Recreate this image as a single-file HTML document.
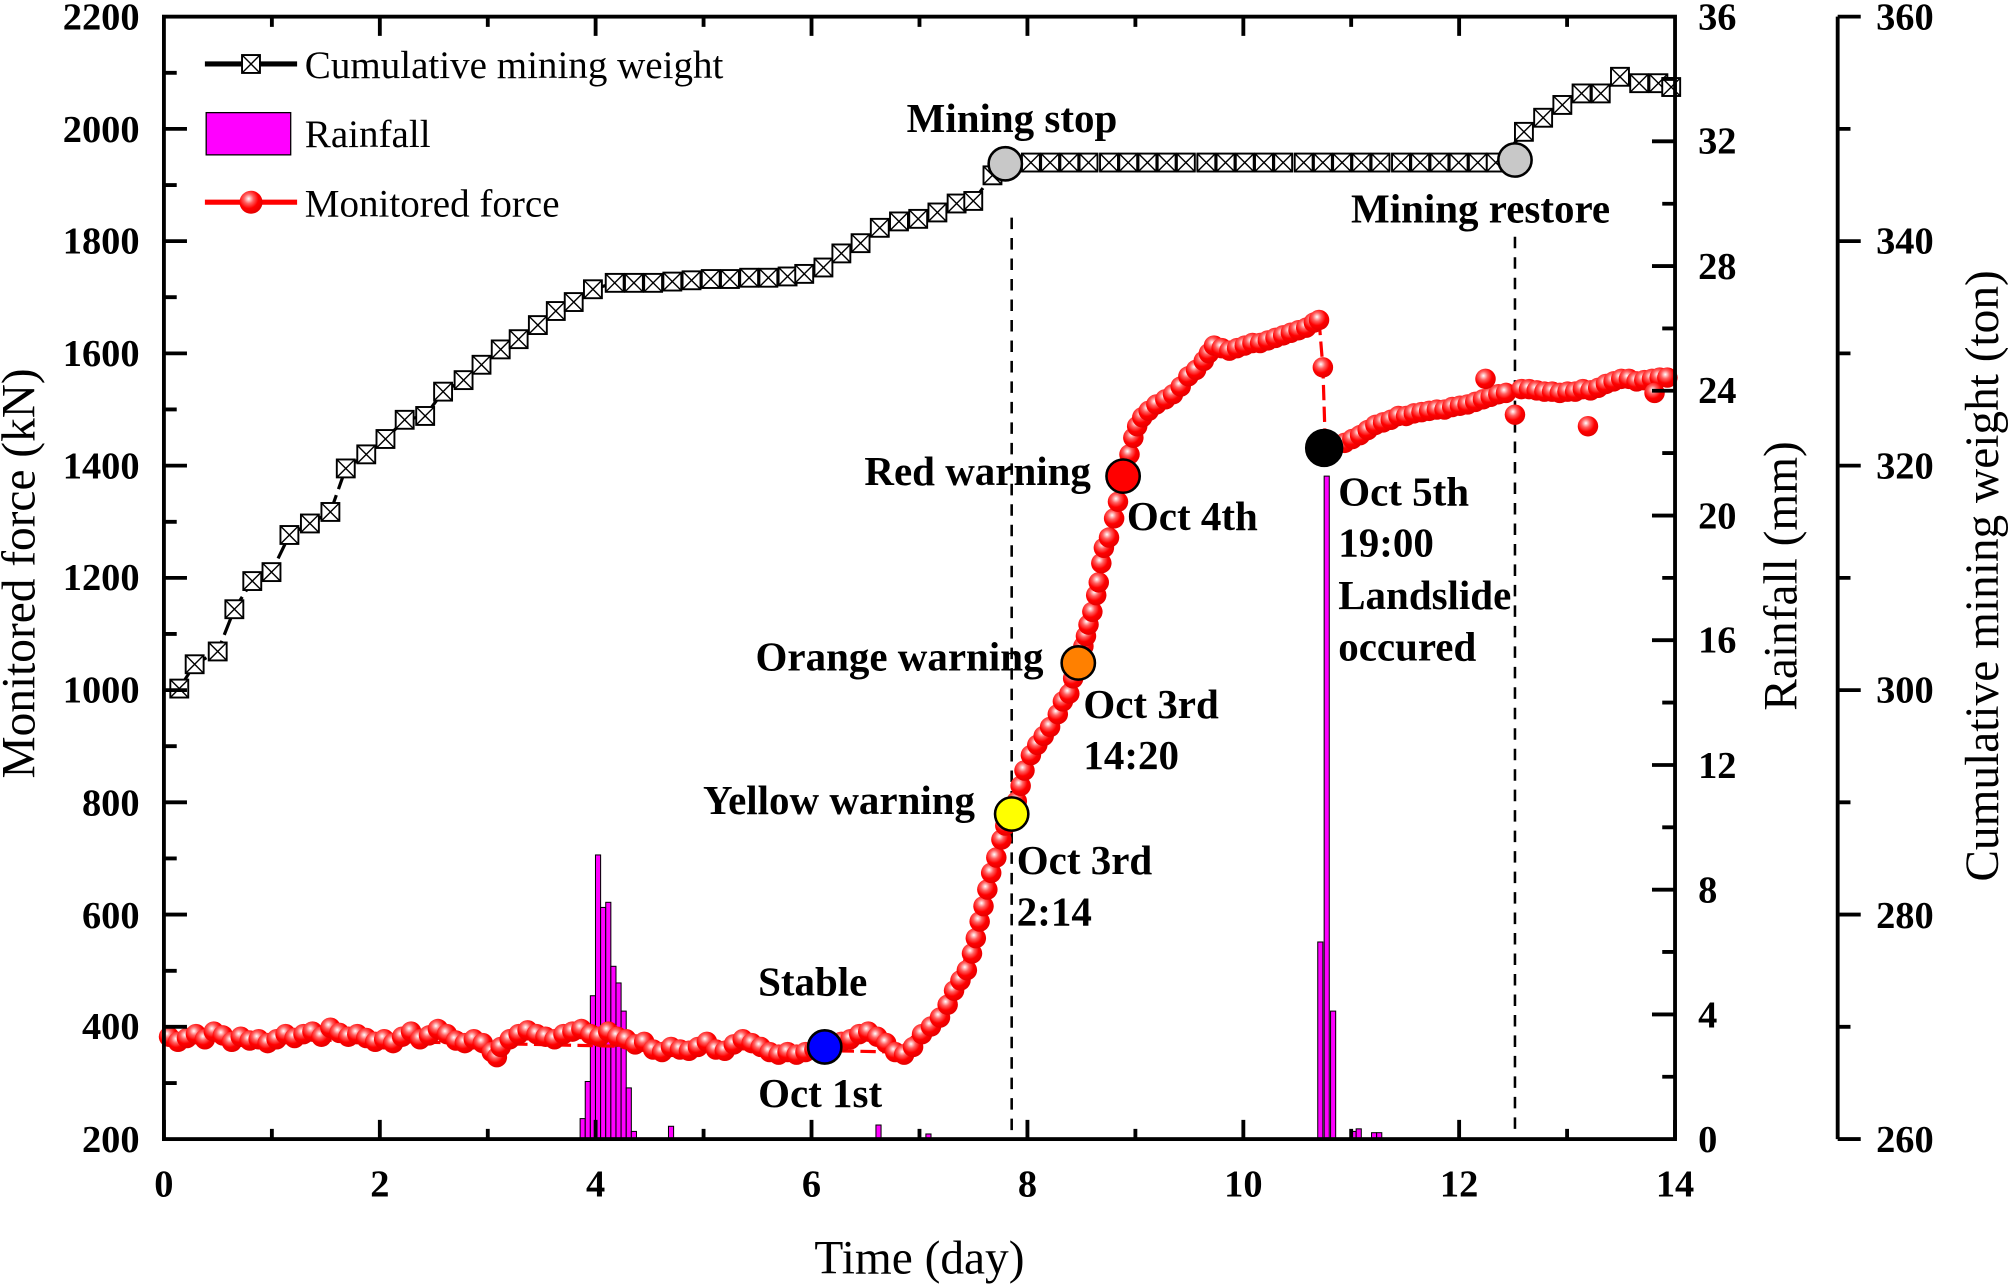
<!DOCTYPE html>
<html><head><meta charset="utf-8"><style>html,body{margin:0;padding:0;background:#fff}svg{display:block}</style></head>
<body>
<svg width="2008" height="1285" viewBox="0 0 1568 1004" preserveAspectRatio="none" xmlns="http://www.w3.org/2000/svg" font-family="Liberation Serif, serif">
<defs>
<radialGradient id="rg" cx="0.4" cy="0.35" r="0.7"><stop offset="0" stop-color="#fff"/><stop offset="0.3" stop-color="#ff6060"/><stop offset="0.6" stop-color="#ff0000"/><stop offset="1" stop-color="#e00000"/></radialGradient>
<g id="m"><rect x="-7" y="-7" width="14" height="14" fill="#fff" stroke="#000" stroke-width="1.5"/><path d="M-7 -7L7 7M7 -7L-7 7" stroke="#000" stroke-width="1.1"/></g>
<circle id="d" r="8" fill="url(#rg)"/>
</defs>
<g fill="#ff00ff" stroke="#000" stroke-width="0.8">
<rect x="453" y="874" width="4" height="16"/><rect x="457" y="845" width="4" height="45"/><rect x="461" y="778" width="4" height="112"/><rect x="465" y="668" width="4" height="222"/><rect x="469" y="709" width="4" height="181"/><rect x="473" y="705" width="4" height="185"/><rect x="477" y="755" width="4" height="135"/><rect x="481" y="768" width="4" height="122"/><rect x="485" y="790" width="4" height="100"/><rect x="489" y="850" width="4" height="40"/><rect x="493" y="884" width="4" height="6"/>
<rect x="522" y="880" width="4" height="10"/><rect x="684" y="879" width="4" height="11"/><rect x="723" y="886" width="4" height="4"/>
<rect x="1029" y="736" width="4" height="154"/><rect x="1034" y="372" width="4" height="518"/><rect x="1039" y="790" width="4" height="100"/>
<rect x="1055" y="884" width="4" height="6"/><rect x="1059" y="882" width="4" height="8"/><rect x="1071" y="885" width="4" height="5"/><rect x="1075" y="885" width="4" height="5"/>
</g>
<polyline fill="none" stroke="#000" stroke-width="2.5" stroke-dasharray="14,5" points="140,538 152,519 170,509 183,476 197,454 212,447 226,418 242,409 258,400 270,366 286,355 301,343 316,328 332,325 346,306 362,297 376,285 391,273 405,265 420,254 434,243 448,236 463,226 480,221 495,221 510,221 525,220 540,219 555,218 570,218 585,217 600,217 615,216 628,214 643,209 657,198 672,190 687,178 702,173 717,171 732,166 747,159 760,157 775,137 790,127 1170,127 1190,103 1205,92 1220,82 1235,73 1250,73 1265,60 1280,65 1295,65 1305,68"/>
<g>
<use href="#m" x="140" y="538"/><use href="#m" x="152" y="519"/><use href="#m" x="170" y="509"/><use href="#m" x="183" y="476"/><use href="#m" x="197" y="454"/><use href="#m" x="212" y="447"/><use href="#m" x="226" y="418"/><use href="#m" x="242" y="409"/><use href="#m" x="258" y="400"/><use href="#m" x="270" y="366"/><use href="#m" x="286" y="355"/><use href="#m" x="301" y="343"/><use href="#m" x="316" y="328"/><use href="#m" x="332" y="325"/><use href="#m" x="346" y="306"/><use href="#m" x="362" y="297"/><use href="#m" x="376" y="285"/><use href="#m" x="391" y="273"/><use href="#m" x="405" y="265"/><use href="#m" x="420" y="254"/><use href="#m" x="434" y="243"/><use href="#m" x="448" y="236"/><use href="#m" x="463" y="226"/><use href="#m" x="480" y="221"/><use href="#m" x="495" y="221"/><use href="#m" x="510" y="221"/><use href="#m" x="525" y="220"/><use href="#m" x="540" y="219"/><use href="#m" x="555" y="218"/><use href="#m" x="570" y="218"/><use href="#m" x="585" y="217"/><use href="#m" x="600" y="217"/><use href="#m" x="615" y="216"/><use href="#m" x="628" y="214"/><use href="#m" x="643" y="209"/><use href="#m" x="657" y="198"/><use href="#m" x="672" y="190"/><use href="#m" x="687" y="178"/><use href="#m" x="702" y="173"/><use href="#m" x="717" y="171"/><use href="#m" x="732" y="166"/><use href="#m" x="747" y="159"/><use href="#m" x="760" y="157"/><use href="#m" x="775" y="137"/>
<use href="#m" x="805" y="127"/><use href="#m" x="820" y="127"/><use href="#m" x="835" y="127"/><use href="#m" x="850" y="127"/><use href="#m" x="866" y="127"/><use href="#m" x="881" y="127"/><use href="#m" x="896" y="127"/><use href="#m" x="911" y="127"/><use href="#m" x="926" y="127"/><use href="#m" x="942" y="127"/><use href="#m" x="957" y="127"/><use href="#m" x="972" y="127"/><use href="#m" x="987" y="127"/><use href="#m" x="1002" y="127"/><use href="#m" x="1018" y="127"/><use href="#m" x="1033" y="127"/><use href="#m" x="1048" y="127"/><use href="#m" x="1063" y="127"/><use href="#m" x="1078" y="127"/><use href="#m" x="1094" y="127"/><use href="#m" x="1109" y="127"/><use href="#m" x="1124" y="127"/><use href="#m" x="1139" y="127"/><use href="#m" x="1154" y="127"/><use href="#m" x="1168" y="127"/>
<use href="#m" x="1190" y="103"/><use href="#m" x="1205" y="92"/><use href="#m" x="1220" y="82"/><use href="#m" x="1235" y="73"/><use href="#m" x="1250" y="73"/><use href="#m" x="1265" y="60"/><use href="#m" x="1280" y="65"/><use href="#m" x="1295" y="65"/><use href="#m" x="1305" y="68"/>
</g>
<polyline fill="none" stroke="#ff0000" stroke-width="2.5" stroke-dasharray="12,5" points="128,810 700,822 740,785 765,720 789,636 812,575 841,518 856,460 877,372 895,320 940,282 950,270 1030,250 1033,287 1035,350 1090,325 1170,308 1300,295"/>
<line x1="790" y1="170" x2="790" y2="890" stroke="#000" stroke-width="2" stroke-dasharray="9,7"/>
<line x1="1183" y1="185" x2="1183" y2="890" stroke="#000" stroke-width="2" stroke-dasharray="9,7"/>
<g>
<use href="#d" x="132" y="810"/><use href="#d" x="139" y="814"/><use href="#d" x="146" y="811"/><use href="#d" x="153" y="808"/><use href="#d" x="160" y="812"/><use href="#d" x="167" y="806"/><use href="#d" x="174" y="809"/><use href="#d" x="181" y="814"/><use href="#d" x="188" y="810"/><use href="#d" x="195" y="813"/><use href="#d" x="202" y="812"/><use href="#d" x="209" y="815"/><use href="#d" x="216" y="812"/><use href="#d" x="223" y="808"/><use href="#d" x="230" y="811"/><use href="#d" x="237" y="808"/><use href="#d" x="244" y="806"/><use href="#d" x="251" y="810"/><use href="#d" x="258" y="803"/><use href="#d" x="265" y="807"/><use href="#d" x="272" y="810"/><use href="#d" x="279" y="808"/><use href="#d" x="286" y="811"/><use href="#d" x="293" y="814"/><use href="#d" x="300" y="812"/><use href="#d" x="307" y="815"/><use href="#d" x="314" y="810"/><use href="#d" x="321" y="806"/><use href="#d" x="328" y="812"/><use href="#d" x="335" y="809"/><use href="#d" x="342" y="804"/><use href="#d" x="349" y="808"/><use href="#d" x="356" y="813"/><use href="#d" x="363" y="815"/><use href="#d" x="370" y="812"/><use href="#d" x="377" y="815"/><use href="#d" x="384" y="822"/><use href="#d" x="388" y="826"/><use href="#d" x="391" y="818"/><use href="#d" x="398" y="812"/><use href="#d" x="405" y="808"/><use href="#d" x="412" y="805"/><use href="#d" x="419" y="808"/><use href="#d" x="426" y="810"/><use href="#d" x="433" y="812"/><use href="#d" x="440" y="808"/><use href="#d" x="447" y="806"/><use href="#d" x="454" y="804"/><use href="#d" x="461" y="808"/><use href="#d" x="468" y="810"/><use href="#d" x="475" y="806"/><use href="#d" x="482" y="810"/><use href="#d" x="489" y="812"/><use href="#d" x="496" y="816"/><use href="#d" x="503" y="814"/><use href="#d" x="510" y="820"/><use href="#d" x="517" y="822"/><use href="#d" x="524" y="818"/><use href="#d" x="531" y="820"/><use href="#d" x="538" y="821"/><use href="#d" x="545" y="818"/><use href="#d" x="552" y="814"/><use href="#d" x="559" y="820"/><use href="#d" x="566" y="821"/><use href="#d" x="573" y="816"/><use href="#d" x="580" y="812"/><use href="#d" x="587" y="815"/><use href="#d" x="594" y="818"/><use href="#d" x="601" y="822"/><use href="#d" x="608" y="824"/><use href="#d" x="615" y="822"/><use href="#d" x="622" y="824"/><use href="#d" x="629" y="822"/><use href="#d" x="636" y="820"/><use href="#d" x="650" y="818"/><use href="#d" x="657" y="814"/><use href="#d" x="664" y="812"/><use href="#d" x="671" y="808"/><use href="#d" x="678" y="806"/><use href="#d" x="685" y="810"/><use href="#d" x="692" y="815"/><use href="#d" x="699" y="822"/><use href="#d" x="706" y="824"/>
<use href="#d" x="713" y="818"/><use href="#d" x="720" y="808"/><use href="#d" x="727" y="802"/><use href="#d" x="734" y="795"/><use href="#d" x="740" y="785"/><use href="#d" x="745" y="774"/><use href="#d" x="750" y="766"/><use href="#d" x="755" y="758"/><use href="#d" x="759" y="745"/><use href="#d" x="762" y="733"/><use href="#d" x="765" y="720"/><use href="#d" x="768" y="708"/><use href="#d" x="771" y="695"/><use href="#d" x="774" y="682"/><use href="#d" x="778" y="670"/><use href="#d" x="782" y="656"/><use href="#d" x="785" y="645"/><use href="#d" x="794" y="626"/><use href="#d" x="797" y="614"/><use href="#d" x="800" y="602"/><use href="#d" x="805" y="590"/><use href="#d" x="810" y="582"/><use href="#d" x="815" y="575"/><use href="#d" x="820" y="568"/><use href="#d" x="826" y="558"/><use href="#d" x="830" y="548"/><use href="#d" x="835" y="542"/><use href="#d" x="838" y="530"/><use href="#d" x="846" y="505"/><use href="#d" x="848" y="497"/><use href="#d" x="850" y="488"/><use href="#d" x="853" y="478"/><use href="#d" x="856" y="465"/><use href="#d" x="858" y="455"/><use href="#d" x="860" y="440"/><use href="#d" x="862" y="428"/><use href="#d" x="866" y="420"/><use href="#d" x="870" y="405"/><use href="#d" x="873" y="392"/><use href="#d" x="882" y="355"/><use href="#d" x="885" y="342"/><use href="#d" x="888" y="333"/><use href="#d" x="892" y="326"/><use href="#d" x="897" y="321"/><use href="#d" x="903" y="316"/><use href="#d" x="910" y="312"/><use href="#d" x="916" y="308"/><use href="#d" x="922" y="302"/><use href="#d" x="928" y="294"/><use href="#d" x="934" y="289"/><use href="#d" x="940" y="282"/><use href="#d" x="944" y="276"/><use href="#d" x="948" y="270"/><use href="#d" x="954" y="272"/><use href="#d" x="960" y="274"/><use href="#d" x="966" y="272"/><use href="#d" x="972" y="270"/><use href="#d" x="978" y="268"/><use href="#d" x="984" y="268"/><use href="#d" x="990" y="266"/><use href="#d" x="996" y="264"/><use href="#d" x="1002" y="262"/><use href="#d" x="1008" y="260"/><use href="#d" x="1014" y="258"/><use href="#d" x="1020" y="256"/><use href="#d" x="1026" y="252"/><use href="#d" x="1030" y="250"/><use href="#d" x="1033" y="287"/>
<use href="#d" x="1050" y="346"/><use href="#d" x="1056" y="343"/><use href="#d" x="1062" y="340"/><use href="#d" x="1068" y="336"/><use href="#d" x="1074" y="332"/><use href="#d" x="1080" y="330"/><use href="#d" x="1086" y="328"/><use href="#d" x="1092" y="325"/><use href="#d" x="1098" y="325"/><use href="#d" x="1104" y="323"/><use href="#d" x="1110" y="322"/><use href="#d" x="1116" y="321"/><use href="#d" x="1122" y="320"/><use href="#d" x="1128" y="320"/><use href="#d" x="1134" y="318"/><use href="#d" x="1140" y="317"/><use href="#d" x="1146" y="316"/><use href="#d" x="1152" y="314"/><use href="#d" x="1158" y="312"/><use href="#d" x="1164" y="310"/><use href="#d" x="1170" y="308"/><use href="#d" x="1176" y="307"/><use href="#d" x="1188" y="304"/><use href="#d" x="1194" y="304"/><use href="#d" x="1200" y="305"/><use href="#d" x="1206" y="306"/><use href="#d" x="1212" y="306"/><use href="#d" x="1218" y="307"/><use href="#d" x="1224" y="306"/><use href="#d" x="1230" y="306"/><use href="#d" x="1236" y="304"/><use href="#d" x="1242" y="305"/><use href="#d" x="1248" y="303"/><use href="#d" x="1254" y="300"/><use href="#d" x="1260" y="298"/><use href="#d" x="1266" y="296"/><use href="#d" x="1272" y="296"/><use href="#d" x="1278" y="298"/><use href="#d" x="1284" y="297"/><use href="#d" x="1290" y="296"/><use href="#d" x="1296" y="295"/><use href="#d" x="1302" y="295"/>
<use href="#d" x="1160" y="296"/><use href="#d" x="1183" y="324"/><use href="#d" x="1240" y="333"/><use href="#d" x="1292" y="307"/>
</g>
<circle cx="785" cy="128" r="13" fill="#c8c8c8" stroke="#000" stroke-width="2"/>
<circle cx="1183" cy="125" r="13" fill="#c8c8c8" stroke="#000" stroke-width="2"/>
<circle cx="644" cy="818" r="13" fill="#0000ff" stroke="#000" stroke-width="2"/>
<circle cx="790" cy="636" r="13" fill="#ffff00" stroke="#000" stroke-width="2"/>
<circle cx="842" cy="518" r="13" fill="#ff8000" stroke="#000" stroke-width="2"/>
<circle cx="877" cy="372" r="13" fill="#ff0000" stroke="#000" stroke-width="2"/>
<circle cx="1034" cy="350" r="14" fill="#000" stroke="#000" stroke-width="2"/>
<rect x="128" y="13" width="1180" height="877" fill="none" stroke="#000" stroke-width="3"/>
<line x1="1435" y1="13" x2="1435" y2="890" stroke="#000" stroke-width="3"/>
<path stroke="#000" stroke-width="3" fill="none" d="
M128 890V875M212.3 890V882M296.6 890V875M380.9 890V882M465.1 890V875M549.4 890V882M633.7 890V875M718 890V882M802.3 890V875M886.6 890V882M970.9 890V875M1055.1 890V882M1139.4 890V875M1223.7 890V882M1308 890V875
M212.3 13V21M296.6 13V28M380.9 13V21M465.1 13V28M549.4 13V21M633.7 13V28M718 13V21M802.3 13V28M886.6 13V21M970.9 13V28M1055.1 13V21M1139.4 13V28M1223.7 13V21
M128 802.3H146M128 714.6H146M128 626.9H146M128 539.2H146M128 451.5H146M128 363.8H146M128 276.1H146M128 188.4H146M128 100.7H146
M128 846.2H138M128 758.5H138M128 670.7H138M128 583H138M128 495.3H138M128 407.7H138M128 319.9H138M128 232.2H138M128 144.6H138M128 56.9H138
M1308 792.6H1290M1308 695.1H1290M1308 597.7H1290M1308 500.2H1290M1308 402.8H1290M1308 305.3H1290M1308 207.9H1290M1308 110.4H1290
M1308 841.3H1298M1308 743.8H1298M1308 646.4H1298M1308 548.9H1298M1308 451.5H1298M1308 354H1298M1308 256.6H1298M1308 159.2H1298M1308 61.7H1298
M1435 890H1453M1435 714.6H1453M1435 539.2H1453M1435 363.8H1453M1435 188.4H1453M1435 13H1453
M1435 802.3H1445M1435 626.9H1445M1435 451.5H1445M1435 276.1H1445M1435 100.7H1445"/>
<g font-size="30" font-weight="bold" fill="#000">
<g text-anchor="middle">
<text x="128" y="935">0</text><text x="296.6" y="935">2</text><text x="465.1" y="935">4</text><text x="633.7" y="935">6</text><text x="802.3" y="935">8</text><text x="970.9" y="935">10</text><text x="1139.4" y="935">12</text><text x="1308" y="935">14</text>
</g>
<g text-anchor="end">
<text x="109" y="900">200</text><text x="109" y="812">400</text><text x="109" y="725">600</text><text x="109" y="637">800</text><text x="109" y="549">1000</text><text x="109" y="461">1200</text><text x="109" y="374">1400</text><text x="109" y="286">1600</text><text x="109" y="198">1800</text><text x="109" y="111">2000</text><text x="109" y="23">2200</text>
</g>
<text x="1326" y="900">0</text><text x="1326" y="803">4</text><text x="1326" y="705">8</text><text x="1326" y="608">12</text><text x="1326" y="510">16</text><text x="1326" y="413">20</text><text x="1326" y="315">24</text><text x="1326" y="218">28</text><text x="1326" y="120">32</text><text x="1326" y="23">36</text>
<text x="1465" y="900">260</text><text x="1465" y="725">280</text><text x="1465" y="549">300</text><text x="1465" y="374">320</text><text x="1465" y="198">340</text><text x="1465" y="23">360</text>
</g>
<text x="718" y="995" font-size="37" text-anchor="middle">Time (day)</text>
<text transform="translate(27,448) rotate(-90)" font-size="37" text-anchor="middle">Monitored force (kN)</text>
<text transform="translate(1403,450) rotate(-90)" font-size="37" text-anchor="middle">Rainfall (mm)</text>
<text transform="translate(1560,450) rotate(-90)" font-size="37" text-anchor="middle">Cumulative mining weight (ton)</text>
<line x1="160" y1="50" x2="232" y2="50" stroke="#000" stroke-width="4"/>
<use href="#m" x="196" y="50"/>
<text x="238" y="61" font-size="30.5">Cumulative mining weight</text>
<rect x="161" y="88" width="66" height="33" fill="#ff00ff" stroke="#000" stroke-width="1"/>
<text x="238" y="115" font-size="30.5">Rainfall</text>
<line x1="160" y1="158" x2="232" y2="158" stroke="#ff0000" stroke-width="4"/>
<circle cx="196" cy="158" r="9" fill="url(#rg)"/>
<text x="238" y="169" font-size="30.5">Monitored force</text>
<g font-size="32" font-weight="bold">
<text x="708" y="103">Mining stop</text>
<text x="1055" y="174">Mining restore</text>
<text x="675" y="379">Red warning</text>
<text x="880" y="414">Oct 4th</text>
<text x="590" y="524">Orange warning</text>
<text x="846" y="561">Oct 3rd</text>
<text x="846" y="601">14:20</text>
<text x="549" y="636">Yellow warning</text>
<text x="794" y="683">Oct 3rd</text>
<text x="794" y="723">2:14</text>
<text x="592" y="778">Stable</text>
<text x="592" y="865">Oct 1st</text>
<text x="1045" y="395">Oct 5th</text>
<text x="1045" y="435">19:00</text>
<text x="1045" y="476">Landslide</text>
<text x="1045" y="516">occured</text>
</g>
</svg>
</body></html>
